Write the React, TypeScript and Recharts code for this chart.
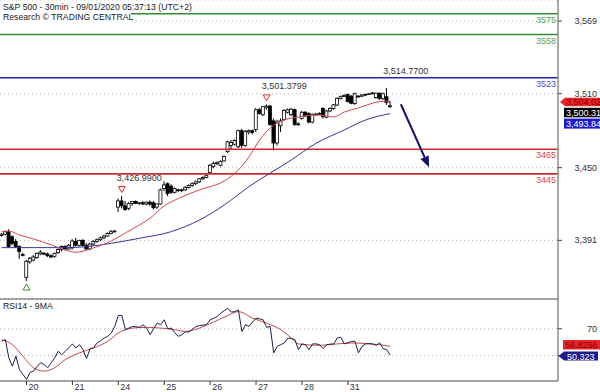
import React from 'react';
import {
  ComposedChart,
  Bar,
  Line,
  XAxis,
  YAxis,
  CartesianGrid,
  ReferenceLine,
  ReferenceDot,
} from 'recharts';

// 30-minute bars, Aug 19 (last bars) .. Aug 31
const opens = [
  3395, 3396, 3398, 3394, 3390, 3386, 3379.5,
  3361, 3373.5, 3375, 3377, 3380, 3380.5, 3380, 3378.5, 3378, 3381, 3383.5, 3386, 3384,
  3385, 3390, 3387, 3391, 3387, 3384, 3388, 3390, 3391.5, 3393, 3394.5, 3396.5, 3398,
  3418, 3423, 3419, 3417, 3421, 3422.5, 3421, 3421.5, 3420.5, 3422, 3421.5, 3418, 3420.5,
  3433, 3437, 3435, 3430, 3432, 3431.5, 3432, 3434, 3435.5, 3437, 3438.5, 3441, 3442,
  3446, 3451, 3453.5, 3452, 3455.5, 3463, 3468, 3469, 3467, 3480, 3468, 3479, 3480,
  3481, 3497, 3493, 3499, 3500, 3488, 3470, 3484, 3489, 3495, 3493, 3497, 3485,
  3490, 3495, 3494, 3487, 3493, 3493.5, 3498, 3491, 3496, 3498, 3500.9, 3506, 3508,
  3509.5, 3508, 3502, 3508, 3508, 3509, 3509.5, 3510, 3507, 3510.5, 3506, 3507.6, 3499.5,
];
const highs = [
  3397, 3399, 3400, 3395, 3392, 3387, 3381,
  3375, 3377.5, 3379, 3381, 3383, 3381.5, 3381, 3379.5, 3381, 3384.5, 3387, 3387, 3388,
  3392, 3393, 3391.5, 3392, 3389, 3389, 3391, 3392.5, 3394, 3395.5, 3397.5, 3399.5, 3399.5,
  3425, 3426.99, 3423, 3422, 3423, 3423.5, 3422, 3423, 3422.5, 3423.5, 3423, 3421, 3433,
  3439, 3438, 3436.5, 3434, 3433, 3433, 3435, 3436.5, 3438, 3439.5, 3441.5, 3443, 3444.5,
  3453, 3455, 3455, 3456, 3460, 3472, 3472.5, 3473, 3481, 3481.5, 3480.5, 3481, 3481,
  3498.5, 3498.5, 3500, 3501.38, 3501, 3490, 3489, 3490, 3497.5, 3498, 3498.5, 3498, 3487,
  3496, 3496, 3495, 3494, 3494.5, 3495, 3499, 3497, 3499, 3501.5, 3507, 3508.5, 3509.5,
  3510, 3509, 3511, 3509, 3509.5, 3510, 3510.5, 3511.5, 3511, 3511, 3511, 3514.77, 3504,
];
const lows = [
  3394, 3395, 3385, 3387, 3385, 3376, 3378,
  3358, 3372, 3374, 3376, 3379, 3379, 3377.5, 3376.5, 3377, 3380, 3382, 3383, 3383.5,
  3383.5, 3386, 3386, 3386, 3383, 3383, 3387, 3389, 3390.5, 3392, 3394, 3396, 3397.5,
  3414, 3417, 3415, 3415.5, 3419, 3420.5, 3419.5, 3420, 3419.5, 3419, 3416, 3416.5, 3420,
  3431, 3427, 3428.5, 3429, 3430, 3430, 3431, 3433, 3434.5, 3436, 3437.5, 3440, 3441.5,
  3445, 3449.5, 3452, 3451, 3455, 3462, 3465, 3468, 3466, 3466, 3467, 3477, 3477,
  3479, 3493, 3492, 3497, 3484, 3464, 3468, 3479, 3488, 3494, 3492, 3484, 3484,
  3489, 3491, 3486, 3486, 3492.5, 3493, 3490, 3490, 3495, 3497, 3500, 3505.5, 3507.5,
  3503, 3501.5, 3501, 3507, 3507.5, 3508, 3509, 3509.5, 3506, 3505, 3505, 3501, 3498.5,
];
const closes = [
  3396, 3398, 3386, 3388.5, 3386, 3382, 3379,
  3374, 3376.5, 3377.5, 3380.5, 3381.5, 3380, 3378.5, 3377.5, 3380.5, 3383.5, 3386, 3384, 3387,
  3390.5, 3387, 3391, 3387, 3384, 3388, 3390, 3391.5, 3393, 3394.5, 3396.5, 3398, 3398.5,
  3423, 3419, 3416, 3421, 3422.5, 3421, 3421.5, 3420.5, 3422, 3420.5, 3417.5, 3420.5, 3432,
  3436, 3429, 3430, 3433, 3431.5, 3432, 3434, 3435.5, 3437, 3438.5, 3441, 3442, 3443.5,
  3452, 3453.5, 3454, 3455, 3459, 3471, 3470.5, 3472, 3480, 3468, 3479.5, 3480, 3478.7,
  3497, 3494, 3499.5, 3500, 3485, 3470, 3487, 3488, 3496.5, 3497, 3497.5, 3485, 3485.5,
  3495, 3492, 3487, 3493, 3493.5, 3494, 3491.4, 3496, 3498, 3501, 3506.3, 3507.6, 3508.5,
  3503.6, 3502.3, 3510, 3507.6, 3509, 3509.5, 3510, 3510.6, 3510.5, 3506, 3510, 3502.8, 3500.31,
];

// moving averages read at bar indices: [bar, value]
const fastMa: [number, number][] = [
  [0, 3398.1], [2, 3398.5], [5, 3395.4], [9, 3392.1], [14, 3387.3], [18, 3383.2],
  [21, 3381.3], [25, 3384], [28, 3386.9], [31, 3390.5], [35, 3397], [39, 3403.5],
  [42, 3409], [46, 3419], [50, 3425], [56, 3432], [63, 3439.2], [67, 3448.1],
  [70, 3458.7], [73, 3472.5], [76, 3482.2], [80, 3488.7], [84, 3491.2], [89, 3492.8],
  [94, 3491.2], [97, 3495.2], [101, 3498.5], [107, 3503.6], [110, 3504.02],
];
const slowMa: [number, number][] = [
  [0, 3385.1], [9, 3385.1], [18, 3385.1], [24, 3385.9], [31, 3388.6], [39, 3392.7],
  [48, 3398.1], [56, 3407.5], [63, 3419.7], [70, 3434.6], [82, 3456.3], [89, 3469.8],
  [97, 3480.6], [103, 3488.7], [110, 3493.84],
];

const rsi = [
  60.6, 61.9, 48.3, 42.1, 49.5, 39.6, 35.9,
  32.2, 37.4, 38.4, 41.9, 44.6, 43.3, 40.9, 44.6, 48.3, 53.2, 50.7, 53.2, 55.9,
  58.7, 55.7, 58.1, 54.4, 47.8, 55.2, 55.7, 59.4, 61.1, 63.1, 64.3, 66.8, 71.7,
  79.9, 79.9, 69.3, 70.5, 71.7, 71.5, 71, 73, 70.5, 65.6, 70, 74.2, 73,
  76.7, 70, 70.5, 67, 64.3, 65.6, 67.6, 67.6, 69.6, 71.7, 72.4, 72.7, 73,
  76.7, 77.8, 79.1, 81.6, 83.5, 85.3, 82.4, 82.8, 84.1, 68, 73, 71.7, 75,
  77.9, 77.4, 76.7, 71, 71.7, 52, 56.9, 58.1, 59.4, 63.1, 62.6, 61.9, 54.4,
  58.7, 58.1, 54.4, 58.7, 58.7, 58.1, 55.2, 58.1, 58.5, 58.7, 63.1, 63.6, 58.7,
  59.6, 60.6, 60.6, 52, 56.9, 58.7, 58.9, 58.7, 57.6, 59.4, 55.2, 54.4, 50.323,
];
const rsiMa: [number, number][] = [
  [0, 61.9], [3, 58.1], [6, 49.5], [9, 40.9], [12, 38.4], [15, 40.9], [18, 47],
  [22, 52], [26, 55.7], [30, 60.6], [33, 66.8], [37, 70.5], [41, 71], [45, 70.5],
  [49, 69.3], [52, 68], [56, 70.5], [60, 75], [64, 79.9], [67, 82.8], [71, 77.9],
  [75, 74.2], [79, 69.3], [82, 63.1], [84, 58.7], [90, 57.6], [95, 58.7], [100, 59.4],
  [104, 58.7], [107, 58.1], [110, 56.8256],
];

const dayStarts = [7, 20, 33, 46, 59, 72, 85, 98];
const dayLabels = ['20', '21', '24', '25', '26', '27', '28', '31'];
const priceTicks = [3391, 3450, 3510, 3569];
const resistances = [3575, 3558];
const pivot = 3523;
const supports = [3465, 3445];

const SLOTS = 158;
const fastMap = new Map(fastMa);
const slowMap = new Map(slowMa);
const rsiMaMap = new Map(rsiMa);

const rows = Array.from({ length: SLOTS }, (_, i) => {
  const has = i < opens.length;
  return {
    i,
    range: has ? [lows[i], highs[i]] : null,
    o: has ? opens[i] : null,
    h: has ? highs[i] : null,
    l: has ? lows[i] : null,
    c: has ? closes[i] : null,
    fast: fastMap.get(i) ?? null,
    slow: slowMap.get(i) ?? null,
    rsi: i < rsi.length ? rsi[i] : null,
    rsiMa: rsiMaMap.get(i) ?? null,
  };
});

const FONT = '"Liberation Sans", Arial, sans-serif';

const NoDot = () => null;

const Candle = (props: any) => {
  const { x, y, width, height, payload } = props;
  if (!payload || payload.h == null) return null;
  const { o, h, l, c } = payload;
  const top = Math.min(y, y + height);
  const span = Math.abs(height);
  const py = (v: number) => top + ((h - v) / (h - l || 1)) * span;
  const cx = x + width / 2;
  const bTop = py(Math.max(o, c));
  const bBot = py(Math.min(o, c));
  const up = c >= o;
  return (
    <g>
      <line x1={cx} x2={cx} y1={top} y2={top + span} stroke="#000" strokeWidth={1} />
      <rect
        x={cx - 1.5}
        y={bTop}
        width={3}
        height={Math.max(bBot - bTop, 0.8)}
        fill={up ? '#fff' : '#000'}
        stroke="#000"
        strokeWidth={0.8}
      />
    </g>
  );
};

const PriceTick = ({ y, payload }: any) => (
  <text x={597} y={y + 3} textAnchor="end" fontSize={9} fill="#333">
    {Number(payload.value).toLocaleString('en-US')}
  </text>
);

const RsiTick = ({ y, payload }: any) =>
  payload.value === 70 ? (
    <text x={597} y={y + 3} textAnchor="end" fontSize={9} fill="#333">
      70
    </text>
  ) : null;

const DayTick = ({ x, y, payload }: any) => {
  const k = dayStarts.indexOf(payload.value);
  return (
    <g>
      <line x1={x} x2={x} y1={y} y2={y + 4} stroke="#333" strokeWidth={1} />
      <text x={x + 2} y={y + 9} fontSize={9} fill="#333">
        {dayLabels[k]}
      </text>
    </g>
  );
};

const LevelLabel = ({ viewBox, text, color }: any) => (
  <text
    x={viewBox.x + viewBox.width - 2}
    y={viewBox.y + 9}
    textAnchor="end"
    fontSize={9}
    fill={color}
  >
    {text}
  </text>
);

const HighMark = ({ cx, cy, text }: any) => (
  <g>
    <polygon
      points={`${cx - 3.5},${cy - 9.5} ${cx + 3.5},${cy - 9.5} ${cx},${cy - 3.5}`}
      fill="#fff"
      stroke="#e03030"
      strokeWidth={1}
    />
    <text x={cx - 5} y={cy - 15} fontSize={9} fill="#333">
      {text}
    </text>
  </g>
);

const TopText = ({ cx, cy, text }: any) => (
  <text x={cx - 3.5} y={cy - 13.5} fontSize={9} fill="#333">
    {text}
  </text>
);

const LowMark = ({ cx, cy }: any) => (
  <polygon
    points={`${cx - 3.5},${cy + 9} ${cx + 3.5},${cy + 9} ${cx},${cy + 3}`}
    fill="#fff"
    stroke="#2e9a2e"
    strokeWidth={1}
  />
);

const ArrowShape = (props: any) => {
  const { x1, y1, x2, y2 } = props;
  const dx = x2 - x1;
  const dy = y2 - y1;
  const len = Math.hypot(dx, dy) || 1;
  const ux = dx / len;
  const uy = dy / len;
  const bx = x2 - ux * 11;
  const by = y2 - uy * 11;
  return (
    <g>
      <line x1={x1} y1={y1} x2={bx} y2={by} stroke="#14146e" strokeWidth={2} />
      <polygon
        points={`${x2},${y2} ${bx - uy * 4.5},${by + ux * 4.5} ${bx + uy * 4.5},${by - ux * 4.5}`}
        fill="#14146e"
      />
    </g>
  );
};

export default function App() {
  return (
    <div
      style={{
        position: 'absolute',
        left: 0,
        top: 0,
        width: 600,
        height: 392,
        background: '#fff',
        fontFamily: FONT,
        overflow: 'hidden',
      }}
    >
      <div style={{ position: 'absolute', left: 0, top: 0 }}>
        <ComposedChart width={600} height={299} data={rows} margin={{ top: 0, right: 0, bottom: 0, left: 0 }}>
          <CartesianGrid horizontal vertical={false} stroke="#b8b8b8" strokeDasharray="1 3" />
          <XAxis dataKey="i" type="category" scale="band" hide />
          <YAxis
            orientation="right"
            width={42}
            type="number"
            domain={[3343.4, 3586.1]}
            allowDataOverflow
            ticks={priceTicks}
            tickSize={4}
            axisLine={{ stroke: '#8c8c8c', strokeWidth: 1.5 }}
            tickLine={{ stroke: '#444' }}
            tick={<PriceTick />}
          />
          {resistances.map((v) => (
            <ReferenceLine
              key={v}
              y={v}
              stroke="#2f8f2f"
              strokeWidth={1.5}
              label={<LevelLabel text={String(v)} color="#55a055" />}
            />
          ))}
          <ReferenceLine
            y={pivot}
            stroke="#2323b4"
            strokeWidth={1.3}
            label={<LevelLabel text={String(pivot)} color="#4a4ac8" />}
          />
          {supports.map((v) => (
            <ReferenceLine
              key={v}
              y={v}
              stroke="#cc2a2a"
              strokeWidth={1.6}
              label={<LevelLabel text={String(v)} color="#e04848" />}
            />
          ))}
          <Line
            dataKey="slow"
            type="monotone"
            stroke="#34349a"
            strokeWidth={1}
            dot={<NoDot />}
            activeDot={false}
            connectNulls
            isAnimationActive={false}
          />
          <Line
            dataKey="fast"
            type="monotone"
            stroke="#d04848"
            strokeWidth={1}
            dot={<NoDot />}
            activeDot={false}
            connectNulls
            isAnimationActive={false}
          />
          <Bar dataKey="range" barSize={3} shape={<Candle />} isAnimationActive={false} />
          <ReferenceDot x={34} y={3426.99} r={0} shape={<HighMark text="3,426.9900" />} />
          <ReferenceDot x={75} y={3501.38} r={0} shape={<HighMark text="3,501.3799" />} />
          <ReferenceDot x={109} y={3514.77} r={0} shape={<TopText text="3,514.7700" />} />
          <ReferenceDot x={7} y={3358} r={0} shape={<LowMark />} />
          <ReferenceLine
            segment={[
              { x: 113, y: 3501.5 },
              { x: 121, y: 3450.3 },
            ]}
            shape={<ArrowShape />}
          />
        </ComposedChart>
      </div>
      <div style={{ position: 'absolute', left: 0, top: 299 }}>
        <ComposedChart width={600} height={93} data={rows} margin={{ top: 0, right: 0, bottom: 0, left: 0 }}>
          <CartesianGrid horizontal vertical={false} stroke="#b8b8b8" strokeDasharray="1 3" />
          <XAxis
            dataKey="i"
            type="category"
            scale="band"
            height={11}
            ticks={dayStarts}
            interval={0}
            tickSize={0}
            tickMargin={0}
            axisLine={{ stroke: '#555', strokeWidth: 1.2 }}
            tickLine={false}
            tick={<DayTick />}
          />
          <YAxis
            orientation="right"
            width={42}
            type="number"
            domain={[31, 92.2]}
            allowDataOverflow
            ticks={[50, 70]}
            tickSize={4}
            axisLine={{ stroke: '#8c8c8c', strokeWidth: 1.5 }}
            tickLine={{ stroke: '#444' }}
            tick={<RsiTick />}
          />
          <Line
            dataKey="rsiMa"
            type="monotone"
            stroke="#c84a4a"
            strokeWidth={1}
            dot={<NoDot />}
            activeDot={false}
            connectNulls
            isAnimationActive={false}
          />
          <Line
            dataKey="rsi"
            type="linear"
            stroke="#1e1e50"
            strokeWidth={1}
            dot={<NoDot />}
            activeDot={false}
            connectNulls
            isAnimationActive={false}
          />
        </ComposedChart>
      </div>
      <svg
        width={600}
        height={392}
        style={{ position: 'absolute', left: 0, top: 0, pointerEvents: 'none' }}
      >
        <line x1={0} x2={558} y1={299} y2={299} stroke="#555" strokeWidth={1.2} />
        <rect x={0} y={11} width={131} height={11} fill="#fff" />
        <text x={3} y={9.5} fontSize={8.7} fill="#222">
          S&amp;P 500 - 30min - 09/01/2020 05:37:13 (UTC+2)
        </text>
        <text x={3} y={19.5} fontSize={8.7} fill="#222">
          Research © TRADING CENTRAL
        </text>
        <text x={3} y={308.5} fontSize={8.7} fill="#222">
          RSI14 - 9MA
        </text>
        <polygon points="560,102 565,97.8 600,97.8 600,106.2 565,106.2" fill="#e8252a" />
        <text x={566} y={105.2} fontSize={9} fill="#8b0000">3,504.02</text>
        <rect x={564} y={107.8} width={36} height={9.5} fill="#000" />
        <text x={566} y={115.8} fontSize={9} fill="#fff">3,500.31</text>
        <rect x={564} y={118.6} width={36} height={10} fill="#1a1acc" />
        <text x={566} y={126.9} fontSize={9} fill="#fff">3,493.84</text>
        <rect x={563} y={340} width={37} height={9.5} fill="#e8252a" />
        <text x={565} y={348} fontSize={9} fill="#8b0000">56.8256</text>
        <polygon points="558.5,356 564,351.5 598,351.5 598,360.5 564,360.5" fill="#1c1c8a" />
        <text x={567} y={359.5} fontSize={9} fill="#fff">50.323</text>
      </svg>
    </div>
  );
}
